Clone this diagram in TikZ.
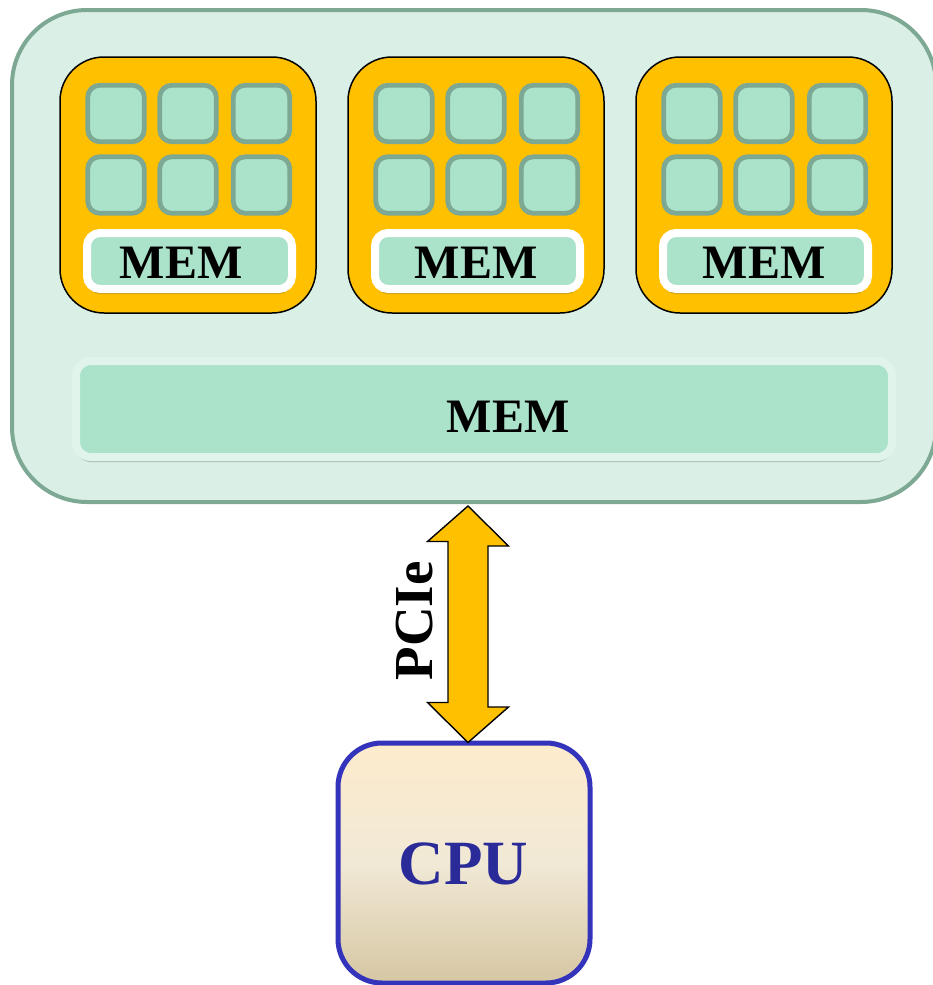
\documentclass[tikz,border=0pt]{standalone}
\usepackage{fontspec}
\setmainfont{Liberation Serif}
\usetikzlibrary{shadows,calc}

\definecolor{boardfill}{HTML}{DAF0E7}
\definecolor{boardline}{HTML}{7DA894}
\definecolor{corefill}{HTML}{ABE2CA}
\definecolor{chipfill}{HTML}{FFC000}
\definecolor{membar}{HTML}{E0F4EC}
\definecolor{cpuline}{HTML}{3333BB}
\definecolor{cputext}{HTML}{2A2A99}
\definecolor{cputop}{HTML}{FDEBCC}
\definecolor{cpumid}{HTML}{F1E9D6}
\definecolor{cpubot}{HTML}{D6C7A3}

\tikzset{
  board/.style={draw=boardline, line width=4pt, fill=boardfill, rounded corners=75pt,
    minimum width=924pt, minimum height=492pt, inner sep=0pt},
  chip/.style={draw=black, line width=1.5pt, fill=chipfill, rounded corners=44pt,
    minimum width=256pt, minimum height=256pt, inner sep=0pt},
  core/.style={draw=boardline, line width=4.8pt, fill=corefill, rounded corners=12pt,
    minimum width=56.5pt, minimum height=56.5pt, inner sep=0pt},
  chipmem/.style={draw=white, line width=8pt, fill=corefill, rounded corners=13pt,
    minimum width=205pt, minimum height=56pt, inner sep=0pt,
    drop shadow={shadow xshift=0pt, shadow yshift=-5pt, opacity=0.35, fill=black!60!chipfill}},
  globalmem/.style={draw=membar, line width=8pt, fill=corefill, rounded corners=15pt,
    minimum width=816pt, minimum height=96pt, inner sep=0pt,
    drop shadow={shadow xshift=0pt, shadow yshift=-5pt, opacity=0.3, fill=black!55!boardline}},
  memlabel/.style={font=\fontsize{48}{48}\selectfont\bfseries, anchor=base, inner sep=0pt},
  cpubox/.style={draw=cpuline, line width=5pt, rounded corners=44pt,
    top color=cputop, bottom color=cpubot, middle color=cpumid,
    minimum width=252pt, minimum height=240pt, inner sep=0pt},
  link/.style={draw=black, line width=1.4pt, fill=chipfill, line join=miter}
}

\begin{document}
\begin{tikzpicture}[x=1pt, y=-1pt]
  \useasboundingbox (0,0) rectangle (932,985);

  % accelerator board
  \node[board] (board) at (474,256) {};

  % three compute chips, each with six cores and a local memory
  \foreach \i/\cx/\dx in {1/188/-7, 2/476/0, 3/764/0} {
    \node[chip] (chip\i) at (\cx,185) {};
    \foreach \j/\ox in {1/-72, 2/0, 3/73.5} {
      \node[core] (core\i a\j) at (\cx+\ox,113.5) {};
      \node[core] (core\i b\j) at (\cx+\ox,185) {};
    }
    \node[chipmem] (mem\i) at (\cx+1.5,261) {};
    \node[memlabel] (memtext\i) at (\cx+\dx,278) {MEM};
  }

  % shared device memory
  \node[globalmem] (gmem) at (484,409) {};
  \node[memlabel] (gmemtext) at (508,432) {MEM};

  % host processor
  \node[cpubox] (cpu) at (464,863) {};
  \node[font=\fontsize{63}{63}\selectfont\bfseries, text=cputext, anchor=base, inner sep=0pt]
    (cputext) at (463.5,884) {CPU};

  % PCIe double arrow between board and host
  \coordinate (ltop) at ([xshift=-6pt, yshift=-2pt]board.south);
  \coordinate (lbot) at ([xshift=4pt, yshift=-2pt]cpu.north);
  \path[link] (ltop) -- ++(40.5,40) -- ++(-20.5,0) -- ++(0,161) -- ++(20.5,0)
    -- (lbot) -- ++(-40.5,-40) -- ++(20.5,0) -- ++(0,-161) -- ++(-20.5,0) -- cycle;
  \node[font=\fontsize{55}{55}\selectfont\bfseries, rotate=90, anchor=base, inner sep=0pt]
    (pcie) at (432,621) {PCIe};
\end{tikzpicture}
\end{document}
